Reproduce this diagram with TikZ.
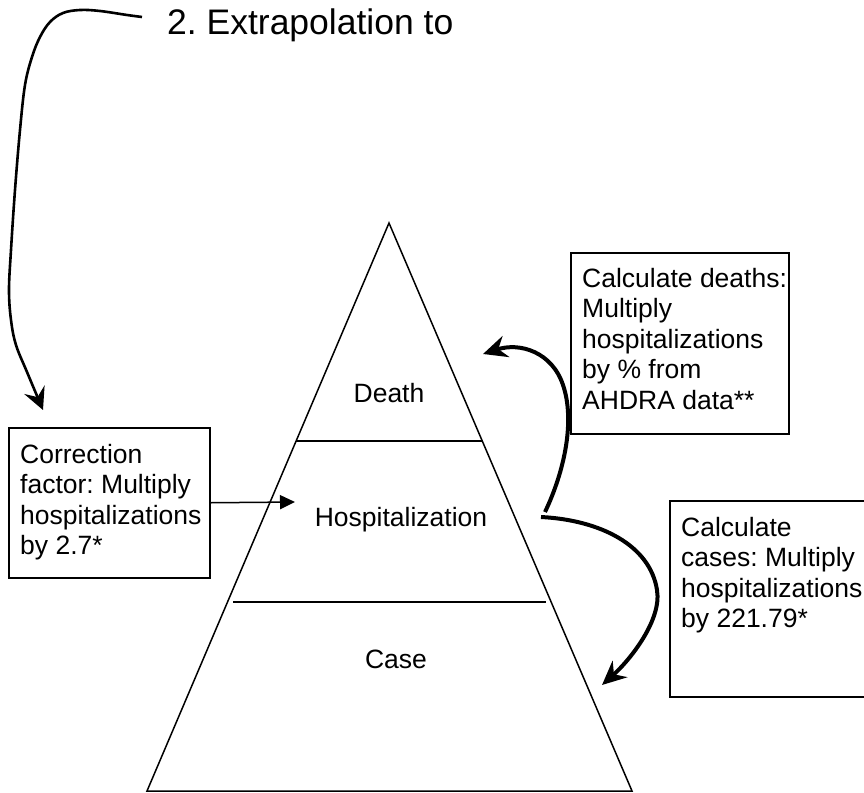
\documentclass[tikz,border=0pt]{standalone}
\usepackage{fontspec}
\setmainfont{Liberation Sans}
\usetikzlibrary{arrows.meta}
\frenchspacing
\begin{document}
\begin{tikzpicture}[x=1pt,y=-1pt,
  thinline/.style={line width=1.5pt},
  box/.style={draw, line width=1.5pt, anchor=north west, inner sep=0pt},
  boxtext/.style={anchor=base west, align=left, inner sep=0pt, font=\fontsize{26.5}{30.5}\selectfont\frenchspacing},
  lbl/.style={anchor=base, inner sep=0pt, font=\fontsize{26.5}{30.5}\selectfont},
  bigarrow/.style={line width=4pt, -{Stealth[length=24pt,width=22pt,inset=8pt]}},
  titlearrow/.style={line width=2.6pt, -{Stealth[length=22pt,width=22pt,inset=8pt]}},
  smallarrow/.style={line width=1.5pt, -{Triangle[length=15pt,width=14pt]}}
]
\clip (0,0) rectangle (864,792);
\fill[white] (0,0) rectangle (864,792);

% title
\node[anchor=base west, inner sep=0pt, font=\fontsize{35.5}{40}\selectfont\frenchspacing] (title) at (167,35) {2. Extrapolation to};

% pyramid
\coordinate (apex) at (389,223);
\coordinate (bl) at (147,791);
\coordinate (br) at (632,791);
\draw[thinline, line join=miter] (apex) -- (br) -- (bl) -- cycle;
\coordinate (m1l) at (296,441);
\coordinate (m1r) at (482,441);
\coordinate (m2l) at (233,602);
\coordinate (m2r) at (546,602);
\draw[thinline] (m1l) -- (m1r);
\draw[thinline] (m2l) -- (m2r);

\node[lbl] (death) at (389,402) {Death};
\node[lbl] (hosp) at (401,526) {Hospitalization};
\node[lbl] (case) at (396,668) {Case};

% boxes (text nodes anchored at the baseline of their last line)
\node[box, minimum width=201pt, minimum height=150pt] (cf) at (8,427) {};
\node[boxtext] (cftext) at (20,554.5) {Correction\\factor: Multiply\\hospitalizations\\by 2.7*};

\node[box, minimum width=218pt, minimum height=181pt] (cd) at (570,252) {};
\node[boxtext] (cdtext) at (582,409) {Calculate deaths:\\Multiply\\hospitalizations\\by \% from\\AHDRA data**};

\node[box, minimum width=200pt, minimum height=196pt] (cc) at (669,500) {};
\node[boxtext] (cctext) at (681,627.5) {Calculate\\cases: Multiply\\hospitalizations\\by 221.79*};

% connectors
\coordinate (hin) at (295,502);
\draw[smallarrow] (cf.east) -- (hin);

\coordinate (ds) at (545,512);
\coordinate (de) at (483,354);
\draw[bigarrow] (ds) .. controls (565,470) and (575,420) .. (563,385)
  .. controls (552,352) and (520,342) .. (de);

\coordinate (cs) at (541,517);
\coordinate (ce) at (602,685);
\draw[bigarrow] (cs) .. controls (600,520) and (650,545) .. (657,590)
  .. controls (662,620) and (630,660) .. (ce);

\coordinate (ts) at (142,17);
\coordinate (te) at (43,410);
\draw[titlearrow] plot[smooth, tension=0.6] coordinates {(ts) (127,15) (100,11) (80,10) (63,13) (50,22) (40,37) (32,57) (25,85) (20,130) (15,190) (11,250) (9,290) (11,320) (16,345) (27,372) (te)};
\end{tikzpicture}
\end{document}
